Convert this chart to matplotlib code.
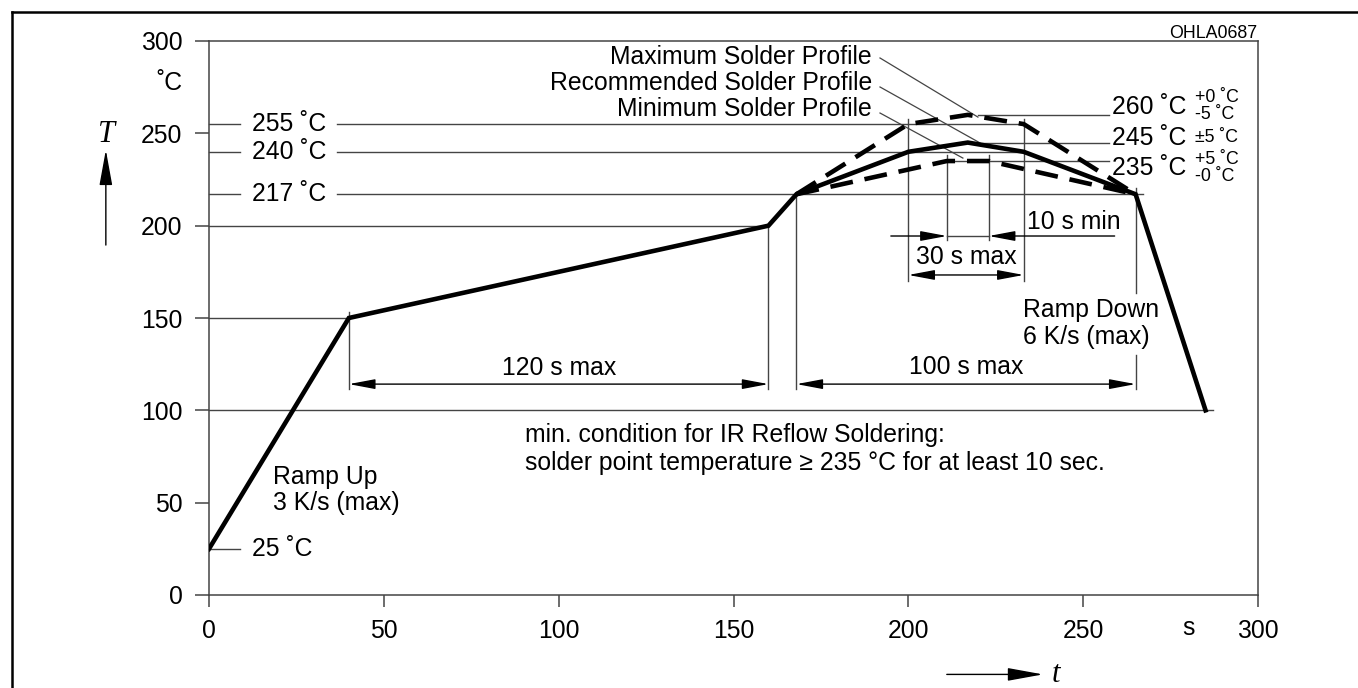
import matplotlib
matplotlib.use("Agg")
import matplotlib.pyplot as plt
from matplotlib.lines import Line2D

plt.rcParams['font.family'] = ['Liberation Sans', 'DejaVu Sans']

# ---- data ----
ramp_t = [0, 40, 160, 168]
ramp_T = [25, 150, 200, 217]
rec_t = [168, 200, 217, 233, 265]
rec_T = [217, 240, 245, 240, 217]
max_t = [168, 200, 217, 233, 265]
max_T = [217, 255, 260, 255, 217]
min_t = [168, 211, 223, 265]
min_T = [217, 235, 235, 217]
cool_t = [265, 285]
cool_T = [217, 100]

xticks = [0, 50, 100, 150, 200, 250, 300]
yticks = [0, 50, 100, 150, 200, 250, 300]

FS = 17.8
SFS = 12.8
LC = '#444444'
LW = 1.0

fig = plt.figure(figsize=(13.58, 6.88), dpi=100)
ax = fig.add_axes([209/1358, 1-595/688, (1258-209)/1358, (595-41)/688])
ax.set_xlim(0, 300)
ax.set_ylim(0, 300)
for s in ax.spines.values():
    s.set_color(LC)
    s.set_linewidth(1.1)
ax.set_xticks(xticks)
ax.set_yticks(yticks)
ax.tick_params(axis='y', length=10, width=1.1, color=LC, pad=9, labelsize=FS)
ax.tick_params(axis='x', length=8.6, width=1.1, color=LC, pad=9, labelsize=FS)

# outer frame (cropped box)
fig.add_artist(Line2D([12/1358, 12/1358], [1-12/688, 0], color='black', lw=1.8))
fig.add_artist(Line2D([12/1358, 1], [1-12/688, 1-12/688], color='black', lw=1.8))

def hl(y, x0, x1):
    ax.plot([x0, x1], [y, y], color=LC, lw=LW, clip_on=False, zorder=2)

def vl(x, y0, y1):
    ax.plot([x, x], [y0, y1], color=LC, lw=LW, clip_on=False, zorder=2)

# horizontal reference lines (with gaps for labels)
gap0, gap1 = 9.0, 36.7
for y, end in [(255, 233), (240, 233), (217, 267)]:
    hl(y, 0, gap0)
    hl(y, gap1, end)
hl(200, 0, 160)
hl(150, 0, 40)
hl(100, 0, 287)
hl(25, 0, 8.9)
hl(260, 220, 257.3)
hl(245, 217, 257.3)
hl(235, 211, 257.3)

# vertical reference lines
vbot = 111.5
vl(40, 153, vbot)
vl(160, 200, vbot)
vl(168, 218, vbot)
vl(265, 220.4, 163.5)
vl(265, 130, vbot)
vl(200, 258, 170)
vl(233, 258, 170)
vl(211, 238, 192)
vl(223, 238, 192)

# profile curves
solid_t = ramp_t + rec_t[1:] + cool_t[1:]
solid_T = ramp_T + rec_T[1:] + cool_T[1:]
ax.plot(solid_t, solid_T, color='black', lw=3.3, solid_joinstyle='miter', zorder=4)
ax.plot(max_t, max_T, color='black', lw=3.3, dashes=(5.0, 2.6), dash_capstyle='butt', zorder=4)
ax.plot(min_t, min_T, color='black', lw=3.3, dashes=(5.0, 2.6), dash_capstyle='butt', zorder=4)

# dimension arrows
ap2 = dict(arrowstyle='<|-|>,head_length=1.6,head_width=0.3', mutation_scale=10,
           lw=LW, color='black', shrinkA=0, shrinkB=0)
ap1 = dict(arrowstyle='-|>,head_length=1.6,head_width=0.3', mutation_scale=10,
           lw=LW, color='black', shrinkA=0, shrinkB=0)
ax.annotate('', xy=(160, 114.2), xytext=(40, 114.2), arrowprops=ap2)
ax.annotate('', xy=(265, 114.2), xytext=(168, 114.2), arrowprops=ap2)
ax.annotate('', xy=(233, 173.3), xytext=(200, 173.3), arrowprops=ap2)
ax.annotate('', xy=(211, 194.4), xytext=(195, 194.4), arrowprops=ap1)
ax.annotate('', xy=(223, 194.4), xytext=(259, 194.4), arrowprops=ap1)
hl(194.4, 211, 223)

# leader lines
ax.plot([191.9, 219.9], [290.8, 258.8], color=LC, lw=0.9, clip_on=False)
ax.plot([191.9, 220.5], [275.1, 244.8], color=LC, lw=0.9, clip_on=False)
ax.plot([191.9, 215.6], [261.0, 236.6], color=LC, lw=0.9, clip_on=False)

def tx(x, y, s, ha='left', fs=FS, **kw):
    ax.text(x, y, s, ha=ha, va='center', fontsize=fs, clip_on=False, **kw)

tx(189.6, 291.5, 'Maximum Solder Profile', ha='right')
tx(189.6, 277.5, 'Recommended Solder Profile', ha='right')
tx(189.6, 263.0, 'Minimum Solder Profile', ha='right')

# left temperature labels
lx = 12.3
tx(lx, 255, '255 ˚C')
tx(lx, 240, '240 ˚C')
tx(lx, 217, '217 ˚C')
tx(lx, 25, '25 ˚C')

# right temperature labels
rx = 258.3
sx = 282.0
tx(rx, 264.5, '260 ˚C')
tx(sx, 269.5, '+0 ˚C', fs=SFS)
tx(sx, 260.3, '-5 ˚C', fs=SFS)
tx(rx, 247.5, '245 ˚C')
tx(sx, 248.0, '±5 ˚C', fs=SFS)
tx(rx, 231.0, '235 ˚C')
tx(sx, 235.8, '+5 ˚C', fs=SFS)
tx(sx, 226.5, '-0 ˚C', fs=SFS)

tx(100, 122.9, '120 s max', ha='center')
tx(216.5, 123.5, '100 s max', ha='center')
tx(216.5, 183.0, '30 s max', ha='center')
tx(234.0, 202.0, '10 s min')
tx(232.8, 154.3, 'Ramp Down')
tx(232.8, 139.7, '6 K/s (max)')
tx(18.3, 63.9, 'Ramp Up')
tx(18.3, 49.8, '3 K/s (max)')
tx(90.4, 86.6, 'min. condition for IR Reflow Soldering:')
tx(90.4, 71.5, 'solder point temperature \u2265 235 °C for at least 10 sec.')

# axis units / labels
tx(-7.7, 277.2, '˚C', ha='right')
tx(280.0, -18.0, 's', ha='center')
tx(299.8, 304.3, 'OHLA0687', ha='right', fs=12.8)

ax.text(-29.2, 249.1, 'T', ha='center', va='center', fontsize=22,
        family='Liberation Serif', style='italic', clip_on=False)
ax.annotate('', xy=(-29.5, 241), xytext=(-29.5, 189.5), annotation_clip=False,
            arrowprops=dict(arrowstyle='-|>,head_length=2.2,head_width=0.4',
                            mutation_scale=10, lw=LW, color='black',
                            shrinkA=0, shrinkB=0))
ax.text(242.2, -43.3, 't', ha='center', va='center', fontsize=22,
        family='Liberation Serif', style='italic', clip_on=False)
ax.annotate('', xy=(238.5, -43.0), xytext=(211.0, -43.0), annotation_clip=False,
            arrowprops=dict(arrowstyle='-|>,head_length=2.2,head_width=0.4',
                            mutation_scale=10, lw=LW, color='black',
                            shrinkA=0, shrinkB=0))

fig.savefig('out.png', dpi=100)
